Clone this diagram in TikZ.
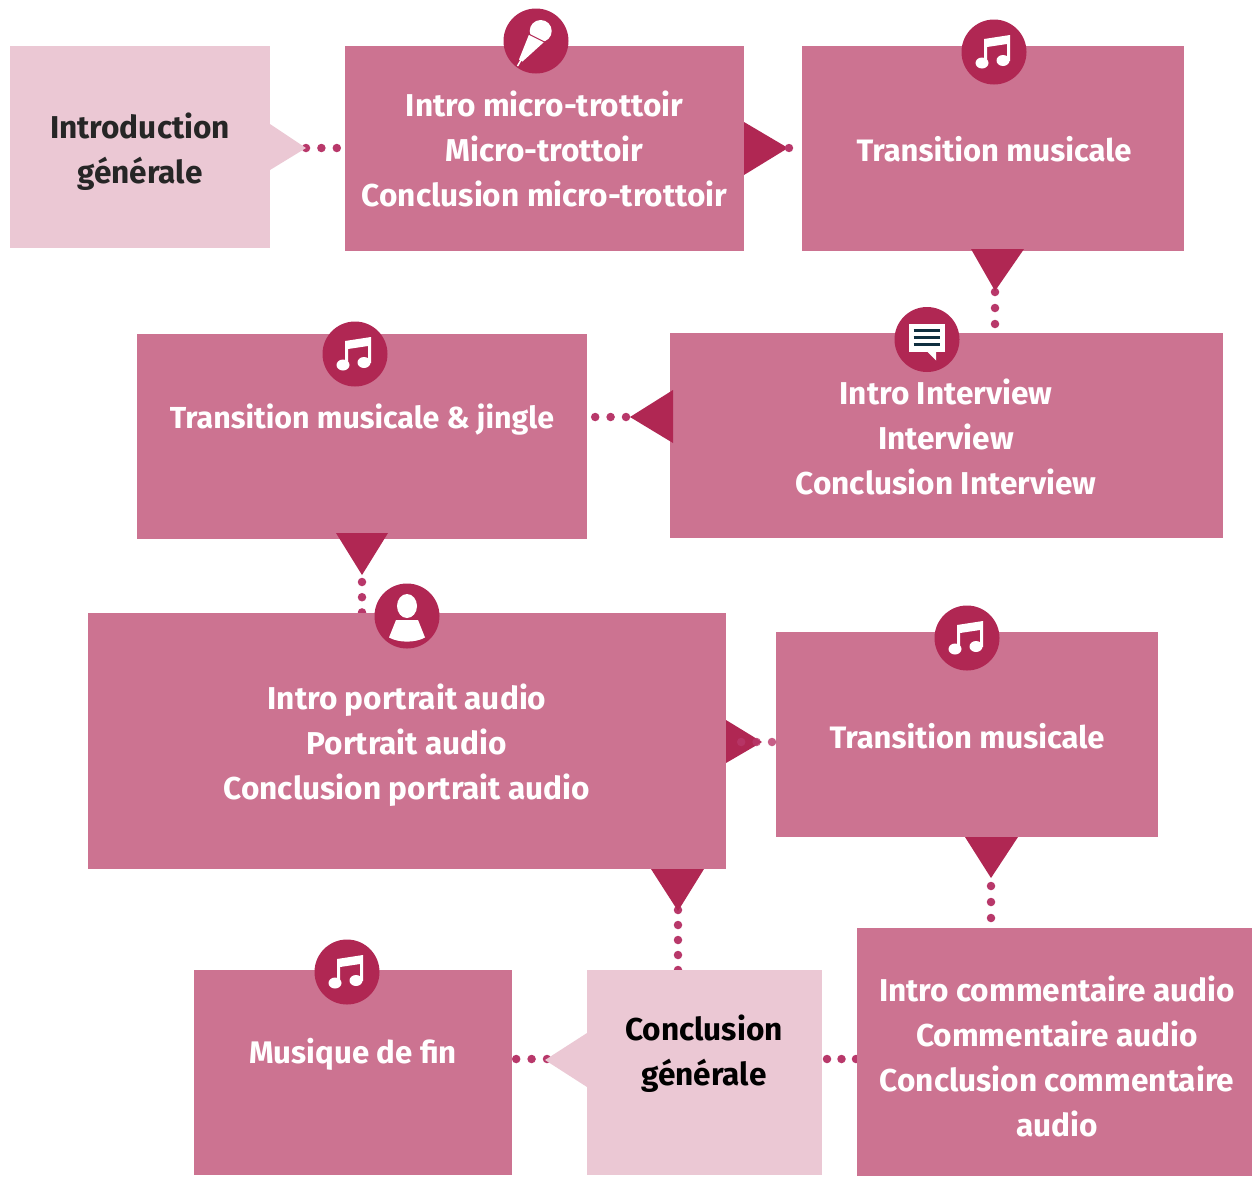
\documentclass[tikz,border=0pt]{standalone}
\usepackage{fontspec}
\usetikzlibrary{backgrounds}
\setmainfont{Fira Sans}
\definecolor{boxc}{HTML}{CC7391}
\definecolor{lightc}{HTML}{EBC8D4}
\definecolor{darkc}{HTML}{B02753}
\definecolor{dotc}{HTML}{B8386A}
\definecolor{linec}{HTML}{0F2F3F}
\tikzset{
 x=1pt,y=-1pt,
 boxn/.style={fill=boxc,inner sep=0,outer sep=0},
 lightn/.style={fill=lightc,inner sep=0,outer sep=0},
 lab/.style={inner sep=0,outer sep=0,align=center,text=white,font=\fontsize{31.6}{45}\selectfont\bfseries},
 labs/.style={lab,font=\fontsize{#1}{45}\selectfont\bfseries},
 labd/.style={lab,text=#1},
 dotline/.style={draw=dotc,line width=8.5pt,line cap=round,dash pattern=on 0pt off #1},
 dotline/.default=15.4pt,
 tri/.style={fill=darkc},
 disc/.style={circle,fill=darkc,minimum size=65pt,inner sep=0,outer sep=0},
 music/.pic={
  \fill[white] (-10,-13) -- (16,-17) -- (16,9) -- (13,9) -- (13,-8) -- (-7,-5) -- (-7,11) -- (-10,11) -- cycle;
  \fill[white] (-12,11) ellipse[x radius=6.5,y radius=5.5];
  \fill[white] (9,8.5) ellipse[x radius=6.5,y radius=5.5];
 },
 micro/.pic={
  \fill[white] (4.7,-10) circle[radius=11];
  \fill[white] (-7,-6.5) -- (8,1) -- (-13.5,20.5) -- (-17,18.5) -- cycle;
  \draw[white,line width=1.5pt] (-15,19) -- (-18.5,25);
  \draw[darkc,line width=1pt] (-7.5,-7) -- (8.5,1);
 },
 bubble/.pic={
  \fill[white] (-18,-16) rectangle (18,12);
  \fill[white] (0,12) -- (9,21) -- (9,12) -- cycle;
  \foreach \yy in {-9,-2,5}{\draw[linec,line width=3pt] (-13.5,\yy) -- (13,\yy);}
 },
 person/.pic={
  \fill[white] (0,-10) ellipse[x radius=10,y radius=12];
  \fill[white] (-11,4) -- (11,4) -- (18,21.5) .. controls (8,27) and (-8,27) .. (-18,21.5) -- cycle;
 },
}
\begin{document}
\begin{tikzpicture}
\useasboundingbox (0,0) rectangle (1252,1176);
% boxes
\node[lightn,minimum width=260pt,minimum height=202pt] (intro) at (140,147) {};
\node[boxn,minimum width=399pt,minimum height=205pt] (micro) at (544.5,148.5) {};
\node[boxn,minimum width=382pt,minimum height=205pt] (transa) at (993,148.5) {};
\node[boxn,minimum width=553pt,minimum height=205pt] (inter) at (946.5,435.5) {};
\node[boxn,minimum width=450pt,minimum height=205pt] (transb) at (362,436.5) {};
\node[boxn,minimum width=638pt,minimum height=256pt] (port) at (407,741) {};
\node[boxn,minimum width=382pt,minimum height=205pt] (transc) at (967,734.5) {};
\node[boxn,minimum width=395pt,minimum height=248pt] (comm) at (1054.5,1052) {};
\node[lightn,minimum width=235pt,minimum height=205pt] (concl) at (704.5,1072.5) {};
\node[boxn,minimum width=318pt,minimum height=205pt] (fin) at (353,1072.5) {};
% dotted connectors, behind the boxes
\coordinate (da) at (306,148);
\coordinate (db) at (789,148);
\coordinate (dc) at (995,292);
\coordinate (dd) at (626,417);
\coordinate (de) at (362,582);
\coordinate (df) at (678,910);
\coordinate (dg) at (991,886);
\coordinate (dh) at (547,1059);
\coordinate (di) at (827,1059);
\coordinate (dj) at (772,742);
\begin{scope}[on background layer]
\fill[white] (0,0) rectangle (1252,1176);
\draw[dotline] (da) -- (micro.west |- da);
\draw[dotline=16pt] (dc) -- (dc |- inter.north);
\draw[dotline] (dd) -- (transb.east |- dd);
\draw[dotline=15.2pt] (de) -- ([yshift=-4pt]de |- port.north);
\draw[dotline=15pt] (df) -- ([yshift=-4pt]df |- concl.north);
\draw[dotline=16pt] (dg) -- (dg |- comm.north);
\draw[dotline] (dh) -- (fin.east |- dh);
\draw[dotline=14.5pt] (di) -- ([xshift=4pt]comm.west |- di);
\end{scope}
% triangles
\fill[lightc] (270,124) -- (306,148) -- (270,170) -- cycle;
\fill[tri] (744,122) -- (788,148) -- (744,175) -- cycle;
\fill[tri] (971,249) -- (1024,249) -- (995,291) -- cycle;
\fill[tri] (673,390) -- (673,443) -- (630,417) -- cycle;
\fill[tri] (336,533) -- (388,533) -- (362,575) -- cycle;
\fill[tri] (726,720) -- (726,763) -- (762,742) -- cycle;
\fill[tri] (965,837) -- (1018,837) -- (991,878) -- cycle;
\fill[tri] (651,869) -- (704,869) -- (678,911) -- cycle;
\fill[lightc] (587,1033) -- (545,1060) -- (587,1087) -- cycle;
% connector dots lying over triangles
\fill[dotc] (db) circle[radius=4.2];
\draw[dotline,draw opacity=.8] (dj) -- (port.east |- dj);
% icons
\node[disc] (ia) at (536,41) {}; \pic at (ia) {micro};
\node[disc] (ib) at (994,52) {}; \pic at (ib) {music};
\node[disc] (ic) at (927,339.5) {}; \pic at (ic) {bubble};
\node[disc] (id) at (355,354) {}; \pic at (id) {music};
\node[disc] (ie) at (407,616) {}; \pic at (ie) {person};
\node[disc] (if) at (967,638) {}; \pic at (if) {music};
\node[disc] (ig) at (347,972) {}; \pic at (ig) {music};
% labels
\node[labd=black!85] (tintro) at (140,152) {Introduction\\générale};
\node[lab] (tmicro) at (544.5,149) {Intro micro-trottoir\\Micro-trottoir\\Conclusion micro-trottoir};
\node[labs=31] (ttransa) at (994,149) {Transition musicale};
\node[lab] (tinter) at (946,437) {Intro Interview\\Interview\\Conclusion Interview};
\node[labs=30.4] (ttransb) at (362,419.5) {Transition musicale \& jingle};
\node[lab] (tport) at (407,745.5) {Intro portrait audio\\Portrait audio\\Conclusion portrait audio};
\node[labs=31] (ttransc) at (967,736) {Transition musicale};
\node[lab] (tcomm) at (1057,1056.5) {Intro commentaire audio\\Commentaire audio\\Conclusion commentaire\\audio};
\node[labd=black] (tconcl) at (704,1054) {Conclusion\\générale};
\node[labs=31.2] (tfin) at (353,1054.5) {Musique de fin};
\end{tikzpicture}
\end{document}
